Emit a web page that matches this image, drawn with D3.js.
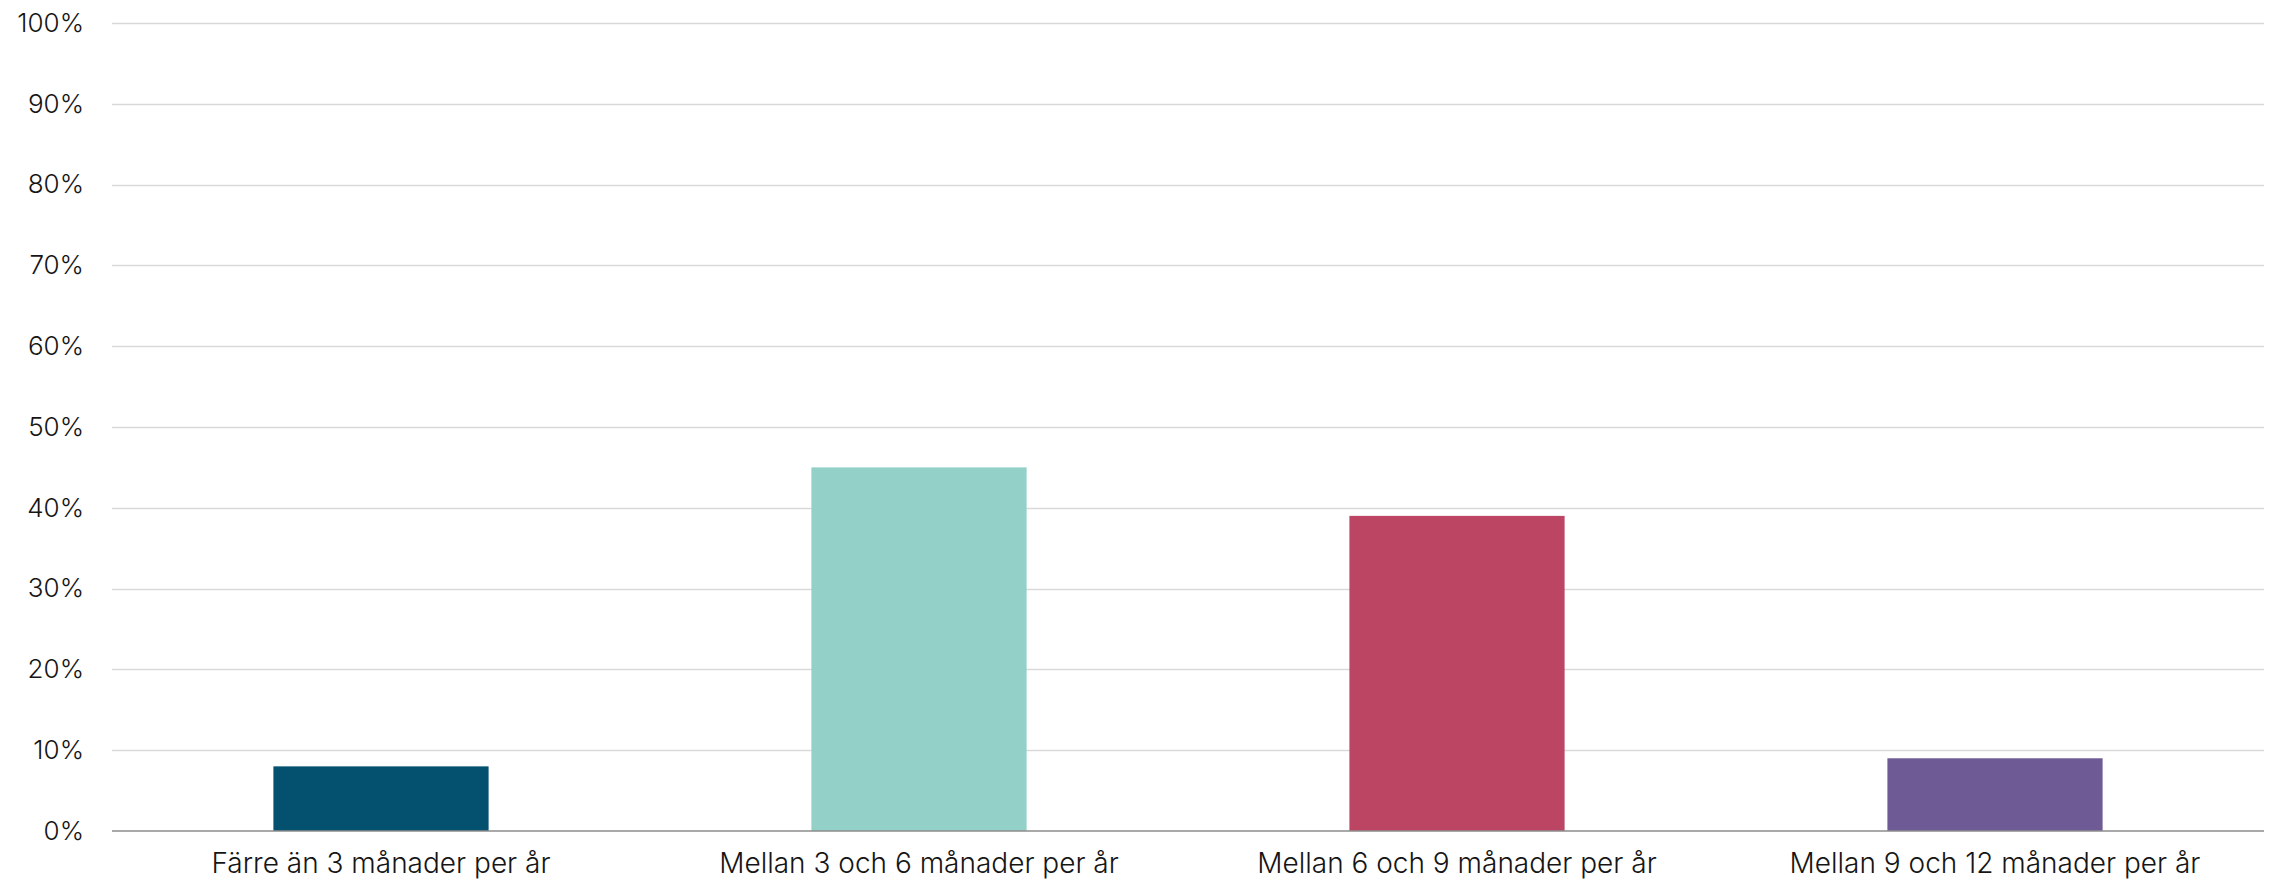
<!DOCTYPE html>
<html>
<head>
<meta charset="utf-8">
<script src="https://cdn.jsdelivr.net/npm/d3@7"></script>
<style>
  html, body { margin: 0; padding: 0; background: #fff; }
  svg { display: block; }
  text { font-family: Inter, "Noto Sans", sans-serif; fill: #151515; }
</style>
</head>
<body>
<svg id="chart" width="2277" height="884"></svg>
<script>
const categories = [
  "Färre än 3 månader per år",
  "Mellan 3 och 6 månader per år",
  "Mellan 6 och 9 månader per år",
  "Mellan 9 och 12 månader per år"
];
const values = [8, 45, 39, 9];
const colors = ["#03516F", "#92D0C8", "#BC4564", "#6E5B96"];
const yTicks = [0, 10, 20, 30, 40, 50, 60, 70, 80, 90, 100];

const W = 2277, H = 884;
const margin = { left: 112, right: 13, top: 23, bottom: 53 };
const svg = d3.select("#chart");

const x = d3.scaleBand()
  .domain(categories)
  .range([margin.left, W - margin.right])
  .paddingInner(0.6)
  .paddingOuter(0.3);

const y = d3.scaleLinear()
  .domain([0, 100])
  .range([H - margin.bottom, margin.top]);

// gridlines
svg.append("g")
  .selectAll("line")
  .data(yTicks.filter(d => d > 0))
  .join("line")
  .attr("x1", margin.left)
  .attr("x2", W - margin.right)
  .attr("y1", d => Math.round(y(d)) + 0.5)
  .attr("y2", d => Math.round(y(d)) + 0.5)
  .attr("stroke", "#D9D9D9")
  .attr("stroke-width", 1.5);

// y axis labels
const yAxis = d3.axisLeft(y)
  .tickValues(yTicks)
  .tickFormat(d => d + "%")
  .tickSize(0)
  .tickPadding(28);
const gy = svg.append("g")
  .attr("transform", `translate(${margin.left},0)`)
  .call(yAxis);
gy.select(".domain").remove();
gy.selectAll("text")
  .attr("font-size", 26)
  .attr("font-family", "Inter, 'Noto Sans', sans-serif")
  .attr("fill", "#151515")
  .attr("font-weight", 300);

// bars
svg.append("g")
  .selectAll("rect")
  .data(values)
  .join("rect")
  .attr("x", (d, i) => x(categories[i]))
  .attr("width", x.bandwidth())
  .attr("y", d => y(d))
  .attr("height", d => y(0) - y(d))
  .attr("fill", (d, i) => colors[i]);

// x axis
const xAxis = d3.axisBottom(x).tickSize(0).tickPadding(22);
const gx = svg.append("g")
  .attr("transform", `translate(0,${y(0)})`)
  .call(xAxis);
gx.select(".domain")
  .attr("stroke", "#8C8C8C")
  .attr("stroke-width", 1.5)
  .attr("d", `M${margin.left},0H${W - margin.right}`);
gx.selectAll("text")
  .attr("font-size", 28)
  .attr("font-family", "Inter, 'Noto Sans', sans-serif")
  .attr("fill", "#151515")
  .attr("font-weight", 300);
</script>
</body>
</html>
